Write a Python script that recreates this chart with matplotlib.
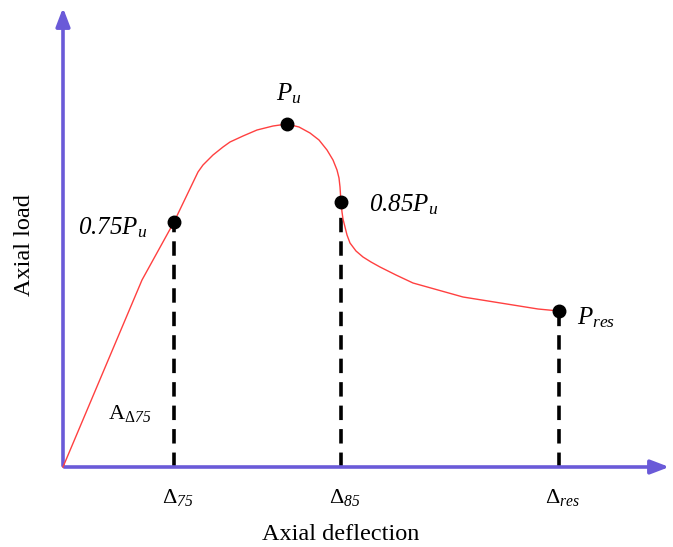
import numpy as np
import matplotlib
matplotlib.use("Agg")
import matplotlib.pyplot as plt

plt.rcParams['font.family'] = ['Liberation Serif', 'DejaVu Serif']
# rm en italique (chiffres en italique), bf sert pour les parties droites
plt.rcParams['mathtext.fontset'] = 'custom'
plt.rcParams['mathtext.rm'] = 'Liberation Serif:italic'
plt.rcParams['mathtext.it'] = 'Liberation Serif:italic'
plt.rcParams['mathtext.bf'] = 'Liberation Serif'

# courbe charge-deplacement (unites arbitraires)
deflection = [0, 79, 111, 135, 140, 150, 160, 167, 180, 194, 210, 224, 236, 247,
              256, 264, 270, 274, 276, 277, 278, 279, 280, 282, 284, 287, 293, 300,
              308, 317, 333, 350, 375, 400, 425, 450, 475, 496]
load = [0, 187, 245, 295, 302, 312, 320, 325, 331, 337, 341, 343, 340, 334,
        327, 317, 307, 297, 289, 280, 265, 255, 248, 240, 232, 224, 216, 210,
        205, 200, 192, 184, 177, 170, 166, 162, 158, 156]

# points caracteristiques
pts_x = [111, 224, 278, 496]
pts_y = [245, 343, 265, 156]
pts_lab = [r'$0.75P_u$', r'$P_u$', r'$0.85P_u$', r'$P_{res}$']
delta_lab = [r'$\mathbf{\Delta}_{75}$', r'$\mathbf{\Delta}_{85}$', r'$\mathbf{\Delta}_{res}$']

axis_col = '#6a5ad8'

fig = plt.figure(figsize=(6.73, 5.47), dpi=100)
ax = fig.add_axes([0, 0, 1, 1])
ax.set_xlim(-63, 610)
ax.set_ylim(-80, 467)
ax.axis('off')

# axes avec fleches
ax.annotate('', xy=(609, 0), xytext=(-1.5, 0),
            arrowprops=dict(arrowstyle='-|>,head_length=1.1,head_width=0.42', color=axis_col, lw=2.6))
ax.annotate('', xy=(0, 462), xytext=(0, -1.5),
            arrowprops=dict(arrowstyle='-|>,head_length=1.1,head_width=0.42', color=axis_col, lw=2.6))

ax.plot(deflection, load, color='#ff4040', lw=1.0, zorder=3)

# lignes pointillees verticales
for i in [0, 2, 3]:
    ax.plot([pts_x[i], pts_x[i]], [0, pts_y[i]], color='black', lw=2.6,
            dashes=(4, 2.5), zorder=2)

ax.plot(pts_x, pts_y, 'o', color='black', ms=9, zorder=4)

fs = 18
ax.text(pts_x[0] - 27, pts_y[0] - 6, pts_lab[0], fontsize=fs, ha='right', va='center')
ax.text(pts_x[1] + 2, pts_y[1] + 30, pts_lab[1], fontsize=fs, ha='center', va='center')
ax.text(pts_x[2] + 28, pts_y[2] - 3, pts_lab[2], fontsize=fs, ha='left', va='center')
ax.text(pts_x[3] + 18, pts_y[3] - 7, pts_lab[3], fontsize=fs, ha='left', va='center')

for i, xi in enumerate([pts_x[0], pts_x[2], pts_x[3]]):
    ax.text(xi + 4, -30, delta_lab[i], fontsize=16, ha='center', va='center')

ax.text(67, 54, r'$\mathbf{A}_{\mathbf{\Delta}75}$', fontsize=16, ha='center', va='center')

ax.text(278, -68, 'Axial deflection', fontsize=17.5, ha='center', va='center')
ax.text(-38, 222, 'Axial load', fontsize=17.5, ha='center', va='center', rotation=90)

fig.savefig('out.png', dpi=100)
